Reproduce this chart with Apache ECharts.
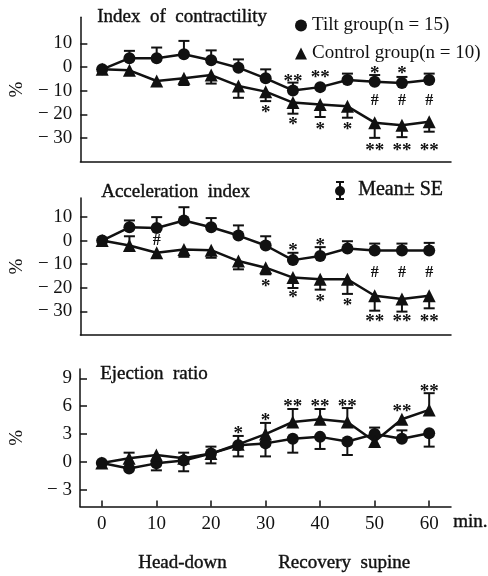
<!DOCTYPE html>
<html>
<head>
<meta charset="utf-8">
<script src="https://cdn.jsdelivr.net/npm/echarts@6/dist/echarts.min.js"></script>
<style>
  body { margin: 0; background: #fff; }
  #main { width: 488px; height: 576px; }
</style>
</head>
<body>
<div id="main"></div>
<script>
// time points (min)
const minutes = [0, 5, 10, 15, 20, 25, 30, 35, 40, 45, 50, 55, 60];
const xTicks = [0, 10, 20, 30, 40, 50, 60];

// Index of contractility (%)
const contrTilt = [-1, 3.7, 3.7, 5.4, 2.8, -0.3, -4.8, -9.9, -8.5, -5.5, -6.2, -6.8, -5.5];
const contrTiltSE = [null, 6.8, 8.2, 11, 7, 3.2, -1, -6.6, null, -2.8, -3.4, -4.2, -2.8];
const contrCtrl = [-1, -1.4, -5.9, -4.8, -3.4, -8, -10.4, -15, -15.8, -16.6, -23.5, -24.6, -23.1];
const contrCtrlSE = [null, null, null, -7.6, -7, -13, -14.4, -19.7, -21.1, -21.4, -29.9, -29.6, -27.3];
const contrMarks = [
  [35, -4.2, '**'], [40, -2.4, '**'], [50, -1, '*'], [55, -1, '*'],
  [30, -17.2, '*'], [35, -22.4, '*'], [40, -24.5, '*'], [45, -24.5, '*'],
  [50, -14.4, '#'], [55, -14.4, '#'], [60, -14.4, '#'],
  [50, -33.4, '**'], [55, -33.4, '**'], [60, -33.4, '**']
];

// Acceleration index (%)
const accTilt = [0, 5.6, 5.3, 8.5, 5.6, 2.1, -2.1, -8.3, -6.6, -3.4, -4.2, -4.2, -4.2];
const accTiltSE = [null, 8.5, 9.9, 14.1, 9.5, 6.4, 1.8, -5.2, -2.8, -0.3, -1.3, -1.3, -1];
const accCtrl = [0, -2.1, -5.2, -3.8, -4.1, -8.7, -11.5, -15.7, -16.4, -16.4, -23.4, -24.8, -23.4];
const accCtrlSE = [null, 1.8, null, -6.9, -7.3, -12.2, -14.3, -20.1, -20.8, -22.6, -29.7, -30.1, -28.7];
const accMarks = [
  [10, -0.3, '#'], [35, -2.4, '*'], [40, -0.3, '*'],
  [30, -17.8, '*'], [35, -22.2, '*'], [40, -24, '*'], [45, -25.5, '*'],
  [50, -13.8, '#'], [55, -13.8, '#'], [60, -13.8, '#'],
  [50, -32.4, '**'], [55, -32.4, '**'], [60, -32.4, '**']
];

// Ejection ratio (%)
const ejTilt = [-0.1, -0.7, -0.15, 0.15, 0.9, 1.8, 2.0, 2.5, 2.7, 2.2, 3.0, 2.5, 3.1];
const ejTiltSE = [null, null, -0.9, -1, -0.15, 0.6, 0.6, 1.0, 1.4, 0.75, null, 3.4, 1.65];
const ejCtrl = [-0.1, 0.4, 0.75, 0.4, 0.9, 1.9, 3.0, 4.3, 4.6, 4.3, 2.2, 4.6, 5.6];
const ejCtrlSE = [null, 1.0, null, 1.0, 1.65, 2.8, 4.2, 5.7, 5.7, 5.8, 3.7, null, 7.4];
const ejMarks = [
  [25, 3.5, '*'], [30, 4.9, '*'], [35, 6.4, '**'], [40, 6.4, '**'], [45, 6.4, '**'],
  [55, 5.95, '**'], [60, 8.1, '**']
];

const yTicks = [
  [-30, -20, -10, 0, 10],
  [-30, -20, -10, 0, 10],
  [-3, 0, 3, 6, 9]
];

const FONT = "'Liberation Serif', serif";
const INK = '#111';

const myChart = echarts.init(document.getElementById('main'));

function pairs(vals) {
  return minutes.map((m, i) => [m, vals[i]]);
}
function errPairs(means, bounds) {
  const out = [];
  minutes.forEach((m, i) => {
    if (bounds[i] != null) out.push([m, means[i], bounds[i]]);
  });
  return out;
}
function fmt(v) {
  return v < 0 ? '\u2212 ' + Math.abs(v) : String(v);
}
// slightly heavier text, like the scan
function txt(text, left, top, size) {
  return {
    type: 'text', left: left, top: top,
    style: { text: text, font: size + 'px ' + FONT, fill: INK, stroke: INK, lineWidth: 0.4 }
  };
}

function lineSeries(name, vals, k, symbol, size) {
  return {
    name: name,
    type: 'line',
    xAxisIndex: k,
    yAxisIndex: k,
    data: pairs(vals),
    symbol: symbol,
    symbolSize: size,
    lineStyle: { color: INK, width: 2.5 },
    itemStyle: { color: INK },
    z: 3,
    animation: false
  };
}

function errSeries(means, bounds, k) {
  return {
    type: 'custom',
    xAxisIndex: k,
    yAxisIndex: k,
    data: errPairs(means, bounds),
    encode: { x: 0, y: [1, 2] },
    renderItem: function (params, api) {
      const p0 = api.coord([api.value(0), api.value(1)]);
      const p1 = api.coord([api.value(0), api.value(2)]);
      return {
        type: 'group',
        children: [
          { type: 'line', shape: { x1: p0[0], y1: p0[1], x2: p1[0], y2: p1[1] }, style: { stroke: INK, lineWidth: 2 } },
          { type: 'line', shape: { x1: p1[0] - 5.5, y1: p1[1], x2: p1[0] + 5.5, y2: p1[1] }, style: { stroke: INK, lineWidth: 2 } }
        ]
      };
    },
    z: 2,
    animation: false
  };
}

function markSeries(marks, k) {
  return {
    type: 'custom',
    xAxisIndex: k,
    yAxisIndex: k,
    data: marks.map(d => [d[0], d[1]]),
    renderItem: function (params, api) {
      const p = api.coord([api.value(0), api.value(1)]);
      const t = marks[params.dataIndex][2];
      const star = t !== '#';
      return {
        type: 'text',
        x: p[0],
        y: p[1] + (star ? 5 : 0),
        style: {
          text: t,
          fill: INK,
          font: (star ? 'bold 19px ' : 'bold 16px ') + FONT,
          align: 'center',
          verticalAlign: 'middle'
        }
      };
    },
    z: 4,
    animation: false
  };
}

const grids = [
  { left: 74, right: 37, top: 17.2, height: 144.6 },
  { left: 74, right: 37, top: 198, height: 137 },
  { left: 74, right: 37, top: 369, height: 137.6 }
];
const yRange = [[-40, 21], [-40, 18], [-4.8, 10]];

const labelStyle = { fontSize: 19, color: INK, fontFamily: FONT };

const option = {
  backgroundColor: '#fff',
  animation: false,
  textStyle: { fontFamily: FONT },
  grid: grids,
  legend: {
    orient: 'vertical',
    left: 290,
    top: 11,
    itemGap: 9,
    itemWidth: 12,
    itemHeight: 12,
    textStyle: { fontFamily: FONT, fontSize: 19, color: INK },
    data: [
      { name: 'Tilt group(n = 15)', icon: 'circle' },
      { name: 'Control group(n = 10)', icon: 'triangle' }
    ],
    selectedMode: false
  },
  xAxis: [0, 1, 2].map(k => ({
    type: 'value',
    gridIndex: k,
    min: -4,
    max: 64,
    splitLine: { show: false },
    axisLine: { show: true, onZero: false, lineStyle: { color: INK, width: 1.5 } },
    axisTick: k === 2
      ? { show: true, inside: true, length: 6, customValues: xTicks, lineStyle: { color: INK, width: 1.5 } }
      : { show: false },
    axisLabel: k === 2
      ? Object.assign({ show: true, customValues: xTicks, margin: 8 }, labelStyle)
      : { show: false }
  })),
  yAxis: [0, 1, 2].map(k => ({
    type: 'value',
    gridIndex: k,
    min: yRange[k][0],
    max: yRange[k][1],
    name: '%',
    nameLocation: 'middle',
    nameGap: 53,
    nameTextStyle: { fontSize: 19, color: INK, fontFamily: FONT },
    splitLine: { show: false },
    axisLine: { show: true, onZero: false, lineStyle: { color: INK, width: 1.5 } },
    axisTick: { show: true, inside: true, length: 7, customValues: yTicks[k], lineStyle: { color: INK, width: 1.5 } },
    axisLabel: Object.assign({ customValues: yTicks[k], formatter: fmt, margin: 8 }, labelStyle)
  })),
  graphic: [
    txt('Index  of  contractility', 97, 7, 19),
    txt('Acceleration  index', 101, 182, 19),
    txt('Ejection  ratio', 100, 364, 19),
    { type: 'line', shape: { x1: 340, y1: 182, x2: 340, y2: 199 }, style: { stroke: INK, lineWidth: 2 } },
    { type: 'line', shape: { x1: 336, y1: 182, x2: 344, y2: 182 }, style: { stroke: INK, lineWidth: 2 } },
    { type: 'line', shape: { x1: 336, y1: 199, x2: 344, y2: 199 }, style: { stroke: INK, lineWidth: 2 } },
    { type: 'circle', shape: { cx: 340, cy: 191, r: 5 }, style: { fill: INK } },
    txt('Mean\u00b1 SE', 358, 180, 20),
    txt('min.', 453, 512, 19),
    txt('Head-down', 138, 553, 19),
    txt('Recovery  supine', 278, 553, 19)
  ],
  series: [
    lineSeries('Tilt group(n = 15)', contrTilt, 0, 'circle', 12),
    lineSeries('Control group(n = 10)', contrCtrl, 0, 'triangle', 13),
    errSeries(contrTilt, contrTiltSE, 0),
    errSeries(contrCtrl, contrCtrlSE, 0),
    markSeries(contrMarks, 0),
    lineSeries('Tilt group(n = 15)', accTilt, 1, 'circle', 12),
    lineSeries('Control group(n = 10)', accCtrl, 1, 'triangle', 13),
    errSeries(accTilt, accTiltSE, 1),
    errSeries(accCtrl, accCtrlSE, 1),
    markSeries(accMarks, 1),
    lineSeries('Tilt group(n = 15)', ejTilt, 2, 'circle', 12),
    lineSeries('Control group(n = 10)', ejCtrl, 2, 'triangle', 13),
    errSeries(ejTilt, ejTiltSE, 2),
    errSeries(ejCtrl, ejCtrlSE, 2),
    markSeries(ejMarks, 2)
  ]
};

myChart.setOption(option);
</script>
</body>
</html>
